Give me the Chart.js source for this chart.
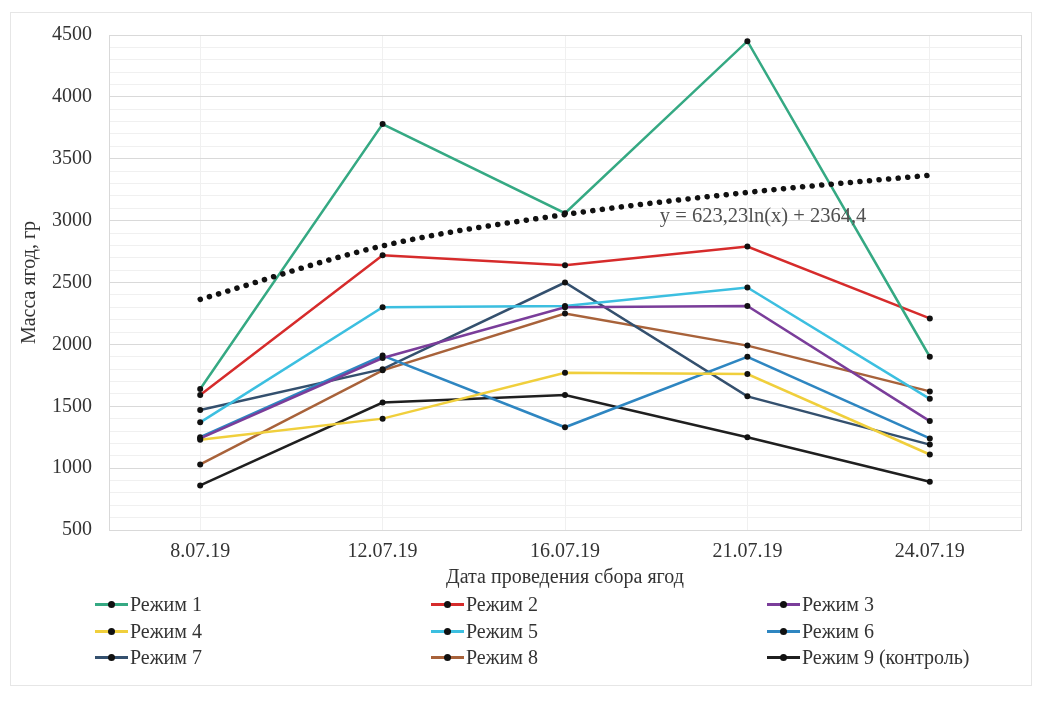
<!DOCTYPE html>
<html>
<head>
<meta charset="utf-8">
<script src="https://cdn.jsdelivr.net/npm/chart.js@4.4.0/dist/chart.umd.min.js"></script>
<style>
  body { margin: 0; background: #fff; }
  #wrap { position: relative; width: 1041px; height: 704px; }
  #frame { position: absolute; left: 10px; top: 12px; width: 1020px; height: 672px; border: 1px solid #e6e6e6; pointer-events: none; }
  #legend { position: absolute; left: 95px; top: 592px; width: 1010px; font-family: "Liberation Serif", serif; font-size: 20px; color: #333; }
  .item { position: absolute; height: 24px; line-height: 24px; white-space: nowrap; }
  .mark { display: inline-block; position: relative; width: 33px; height: 24px; vertical-align: top; margin-right: 2px; }
  .mark .ln { position: absolute; left: 0; top: 11px; width: 33px; height: 3px; }
  .mark .dot { position: absolute; left: 13px; top: 9px; width: 7px; height: 7px; border-radius: 50%; background: #111; }
</style>
</head>
<body>
<div id="wrap">
  <canvas id="chartCanvas" width="1041" height="704"></canvas>
  <div id="frame"></div>
  <div id="legend"></div>
</div>
<script>
const dates = ['8.07.19', '12.07.19', '16.07.19', '21.07.19', '24.07.19'];

const mode1 = [1640, 3780, 3060, 4450, 1900];
const mode2 = [1590, 2720, 2640, 2790, 2210];
const mode3 = [1240, 1890, 2300, 2310, 1380];
const mode4 = [1230, 1400, 1770, 1760, 1110];
const mode5 = [1370, 2300, 2310, 2460, 1560];
const mode6 = [1250, 1910, 1330, 1900, 1240];
const mode7 = [1470, 1800, 2500, 1580, 1190];
const mode8 = [1030, 1790, 2250, 1990, 1620];
const mode9 = [860, 1530, 1590, 1250, 890];

// логарифмический тренд, значения
const trend = [2364, 2796, 3049, 3228, 3367];
const trendLabel = 'y = 623,23ln(x) + 2364,4';

const names = ['Режим 1', 'Режим 2', 'Режим 3', 'Режим 4', 'Режим 5', 'Режим 6', 'Режим 7', 'Режим 8', 'Режим 9 (контроль)'];
const colors = ['#35a983', '#d62b2b', '#7a3d9a', '#f0cf3c', '#3cbfe0', '#2e86c1', '#34506e', '#a8623a', '#1f1f1f'];
const series = [mode1, mode2, mode3, mode4, mode5, mode6, mode7, mode8, mode9];

const font = { family: '"Liberation Serif", serif', size: 20, lineHeight: 1.2 };
const textColor = '#333';

const datasets = series.map((data, i) => ({
  label: names[i],
  data: data,
  borderColor: colors[i],
  backgroundColor: '#111',
  borderWidth: 2.5,
  pointRadius: 3,
  pointBorderWidth: 0,
  pointBackgroundColor: '#111',
  tension: 0,
  order: 2
}));

datasets.push({
  label: 'trend',
  data: trend,
  borderColor: '#111',
  borderWidth: 5.5,
  borderDash: [0.1, 9.5],
  borderCapStyle: 'round',
  pointRadius: 0,
  cubicInterpolationMode: 'monotone',
  order: 1
});

const areaBorder = {
  id: 'areaBorder',
  beforeDatasetsDraw(chart) {
    const a = chart.chartArea;
    const ctx = chart.ctx;
    ctx.save();
    ctx.strokeStyle = '#d9d9d9';
    ctx.lineWidth = 1;
    ctx.strokeRect(a.left + 0.5, a.top + 0.5, a.right - a.left, a.bottom - a.top);
    ctx.restore();
  },
  afterDatasetsDraw(chart) {
    const ctx = chart.ctx;
    const x = chart.scales.x.getPixelForValue(2.52);
    const y = chart.scales.y.getPixelForValue(3030);
    ctx.save();
    ctx.font = '20.5px "Liberation Serif", serif';
    ctx.fillStyle = '#505050';
    ctx.textAlign = 'left';
    ctx.textBaseline = 'middle';
    ctx.fillText(trendLabel, x, y);
    ctx.restore();
  }
};

const ctx = document.getElementById('chartCanvas').getContext('2d');
const myChart = new Chart(ctx, {
  type: 'line',
  data: { labels: dates, datasets: datasets },
  options: {
    responsive: false,
    animation: false,
    layout: { padding: { left: 18, top: 35, right: 20, bottom: 114 } },
    scales: {
      x: {
        offset: true,
        grid: { offset: false, color: '#f0f0f0', drawTicks: false },
        border: { display: false },
        ticks: { font: font, color: textColor, padding: 10 },
        title: { display: true, text: 'Дата проведения сбора ягод', font: font, color: textColor, padding: { top: 2, bottom: 0 } },
        afterFit: s => { s.height = 60; }
      },
      y: {
        min: 500,
        max: 4500,
        grid: {
          drawTicks: false,
          color: c => (c.tick && c.tick.value % 500 === 0) ? '#d9d9d9' : '#f0f0f0'
        },
        border: { display: false },
        ticks: {
          stepSize: 100,
          autoSkip: false,
          font: font,
          color: textColor,
          padding: 17,
          callback: v => v % 500 === 0 ? v : ''
        },
        title: { display: true, text: 'Масса ягод, гр', font: font, color: textColor, padding: { top: 0, bottom: 0 } },
        afterFit: s => { s.width = 91; }
      }
    },
    plugins: {
      legend: { display: false },
      tooltip: { enabled: false }
    }
  },
  plugins: [areaBorder]
});

// легенда в три колонки
const legend = document.getElementById('legend');
names.forEach((name, i) => {
  const item = document.createElement('div');
  item.className = 'item';
  item.style.left = (i % 3) * 336 + 'px';
  item.style.top = Math.floor(i / 3) * 26.5 + 'px';
  item.innerHTML = '<span class="mark"><span class="ln" style="background:' + colors[i] + '"></span><span class="dot"></span></span>' + name;
  legend.appendChild(item);
});
</script>
</body>
</html>
